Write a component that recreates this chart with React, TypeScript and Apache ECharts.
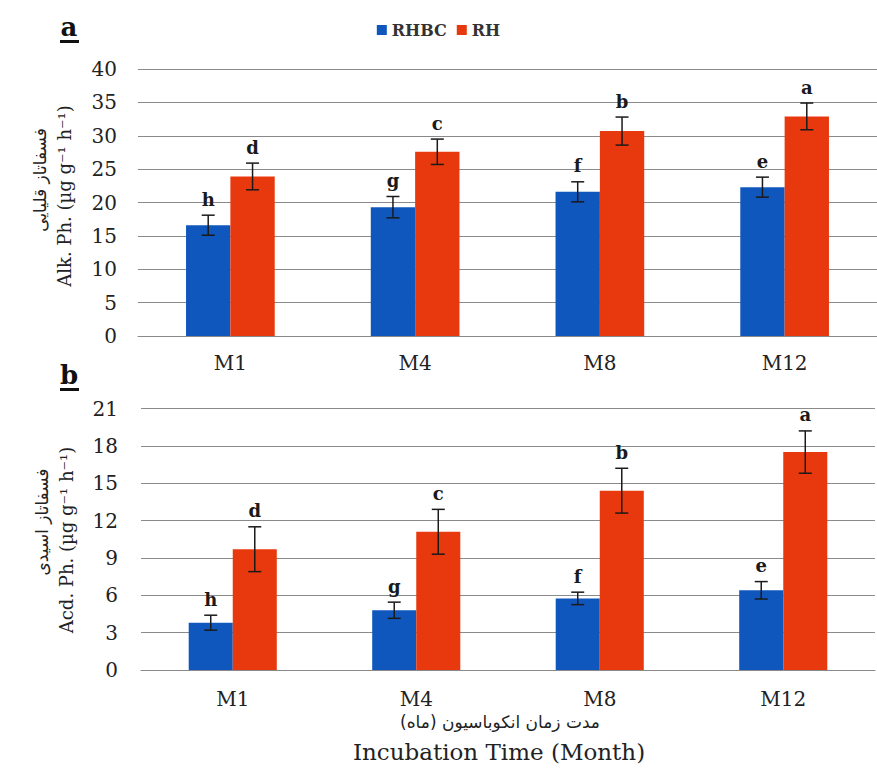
import React, { useEffect, useRef } from "react";
import * as echarts from "echarts";

const categories = ["M1", "M4", "M8", "M12"];
const seriesNames = ["RHBC", "RH"];

// Panel a: alkaline phosphatase
const alkRHBC = [16.6, 19.3, 21.6, 22.3];
const alkRHBCErr = [1.5, 1.6, 1.5, 1.5];
const alkRHBCLetters = ["h", "g", "f", "e"];
const alkRH = [23.9, 27.6, 30.7, 32.9];
const alkRHErr = [2.0, 1.9, 2.1, 2.0];
const alkRHLetters = ["d", "c", "b", "a"];

// Panel b: acid phosphatase
const acdRHBC = [3.8, 4.8, 5.75, 6.4];
const acdRHBCErr = [0.6, 0.65, 0.5, 0.7];
const acdRHBCLetters = ["h", "g", "f", "e"];
const acdRH = [9.7, 11.1, 14.4, 17.5];
const acdRHErr = [1.8, 1.8, 1.8, 1.7];
const acdRHLetters = ["d", "c", "b", "a"];

const BLUE = "#1057bd";
const RED = "#e8380d";
const SERIF = '"DejaVu Serif", "Liberation Serif", serif';
const PERSIAN = '"DejaVu Sans", "Noto Sans", sans-serif';
const CAT_GAP = 0.52;

function errSeries(
  axisIdx: number,
  values: number[],
  errs: number[],
  letters: string[],
  sign: number
) {
  return {
    type: "custom",
    xAxisIndex: axisIdx,
    yAxisIndex: axisIdx,
    z: 5,
    silent: true,
    encode: { x: 0, y: 1 },
    data: values.map((v, i) => [i, v, errs[i]]),
    renderItem: (params: any, api: any) => {
      const idx = api.value(0);
      const v = api.value(1);
      const e = api.value(2);
      const band = api.size([1, 0])[0];
      const bw = (band * (1 - CAT_GAP)) / 2;
      const cx = api.coord([idx, v])[0] + (sign * bw) / 2;
      const yTop = api.coord([idx, v + e])[1];
      const yBot = api.coord([idx, v - e])[1];
      const cap = 6.5;
      const st = { stroke: "#1a1a1a", lineWidth: 1.5 };
      return {
        type: "group",
        children: [
          { type: "line", shape: { x1: cx, y1: yTop, x2: cx, y2: yBot }, style: st },
          { type: "line", shape: { x1: cx - cap, y1: yTop, x2: cx + cap, y2: yTop }, style: st },
          { type: "line", shape: { x1: cx - cap, y1: yBot, x2: cx + cap, y2: yBot }, style: st },
          {
            type: "text",
            style: {
              text: letters[params.dataIndex],
              x: cx,
              y: yTop - 7,
              align: "center",
              verticalAlign: "bottom",
              fontFamily: SERIF,
              fontWeight: "bold",
              fontSize: 18,
              fill: "#1a1a1a",
            },
          },
        ],
      };
    },
  };
}

function barSeries(axisIdx: number, name: string, data: number[], color: string) {
  return {
    type: "bar",
    name,
    xAxisIndex: axisIdx,
    yAxisIndex: axisIdx,
    data,
    itemStyle: { color },
    barGap: "0%",
    barCategoryGap: "52%",
    z: 2,
  };
}

function rotatedText(text: string, x: number, y: number, fontFamily: string, fontSize: number) {
  return {
    type: "text",
    x,
    y,
    rotation: Math.PI / 2,
    style: { text, align: "center", verticalAlign: "middle", fontFamily, fontSize, fill: "#222" },
  };
}

export default function App() {
  const ref = useRef<HTMLDivElement>(null);
  useEffect(() => {
    if (!ref.current) return;
    const chart = echarts.init(ref.current, null, { renderer: "svg" });
    const axisLabel = { fontFamily: SERIF, fontSize: 20, color: "#222" };
    const splitLine = { show: true, lineStyle: { color: "#8a8a8a", width: 1 } };
    const xAxisCommon = {
      type: "category",
      data: categories,
      axisTick: { show: false },
      axisLine: { show: true, lineStyle: { color: "#8a8a8a", width: 1 } },
      axisLabel: { ...axisLabel, margin: 17 },
    };
    chart.setOption({
      animation: false,
      backgroundColor: "#ffffff",
      legend: {
        data: seriesNames,
        left: "center",
        top: 17,
        icon: "rect",
        itemWidth: 10,
        itemHeight: 10,
        itemGap: 10,
        textStyle: { fontFamily: SERIF, fontWeight: "bold", fontSize: 16, color: "#333" },
      },
      grid: [
        { left: 138, top: 69, width: 751, height: 267 },
        { left: 141, top: 408.5, width: 734, height: 261.5 },
      ],
      xAxis: [
        { ...xAxisCommon, gridIndex: 0 },
        { ...xAxisCommon, gridIndex: 1, axisLabel: { ...axisLabel, margin: 19 } },
      ],
      yAxis: [
        {
          type: "value",
          gridIndex: 0,
          min: 0,
          max: 40,
          interval: 5,
          axisLine: { show: false },
          axisTick: { show: false },
          axisLabel: { ...axisLabel, margin: 21 },
          splitLine,
        },
        {
          type: "value",
          gridIndex: 1,
          min: 0,
          max: 21,
          interval: 3,
          axisLine: { show: false },
          axisTick: { show: false },
          axisLabel: { ...axisLabel, margin: 23 },
          splitLine,
        },
      ],
      series: [
        barSeries(0, "RHBC", alkRHBC, BLUE),
        barSeries(0, "RH", alkRH, RED),
        errSeries(0, alkRHBC, alkRHBCErr, alkRHBCLetters, -1),
        errSeries(0, alkRH, alkRHErr, alkRHLetters, 1),
        barSeries(1, "RHBC", acdRHBC, BLUE),
        barSeries(1, "RH", acdRH, RED),
        errSeries(1, acdRHBC, acdRHBCErr, acdRHBCLetters, -1),
        errSeries(1, acdRH, acdRHErr, acdRHLetters, 1),
      ],
      graphic: [
        {
          type: "text",
          x: 69,
          y: 40,
          style: {
            text: "a",
            align: "center",
            verticalAlign: "bottom",
            fontFamily: SERIF,
            fontWeight: "bold",
            fontSize: 26,
            fill: "#111",
          },
        },
        { type: "rect", shape: { x: 60, y: 40, width: 19, height: 3 }, style: { fill: "#111" } },
        {
          type: "text",
          x: 69,
          y: 388,
          style: {
            text: "b",
            align: "center",
            verticalAlign: "bottom",
            fontFamily: SERIF,
            fontWeight: "bold",
            fontSize: 26,
            fill: "#111",
          },
        },
        { type: "rect", shape: { x: 60, y: 388, width: 19, height: 3 }, style: { fill: "#111" } },
        rotatedText("فسفاتاز قلیایی", 40, 180, PERSIAN, 17),
        rotatedText("Alk. Ph. (µg g⁻¹ h⁻¹)", 64, 196, SERIF, 18),
        rotatedText("فسفاتاز اسیدی", 42, 522, PERSIAN, 17),
        rotatedText("Acd. Ph. (µg g⁻¹ h⁻¹)", 66, 540, SERIF, 18),
        {
          type: "text",
          x: 500,
          y: 722,
          style: {
            text: "مدت زمان انکوباسیون (ماه)",
            align: "center",
            verticalAlign: "middle",
            fontFamily: PERSIAN,
            fontSize: 17,
            fill: "#222",
          },
        },
        {
          type: "text",
          x: 499,
          y: 752,
          style: {
            text: "Incubation Time (Month)",
            align: "center",
            verticalAlign: "middle",
            fontFamily: SERIF,
            fontSize: 23,
            fill: "#222",
          },
        },
      ],
    });
    return () => chart.dispose();
  }, []);
  return (
    <div
      ref={ref}
      style={{ position: "absolute", left: 0, top: 0, width: 877, height: 774, background: "#fff" }}
    />
  );
}
